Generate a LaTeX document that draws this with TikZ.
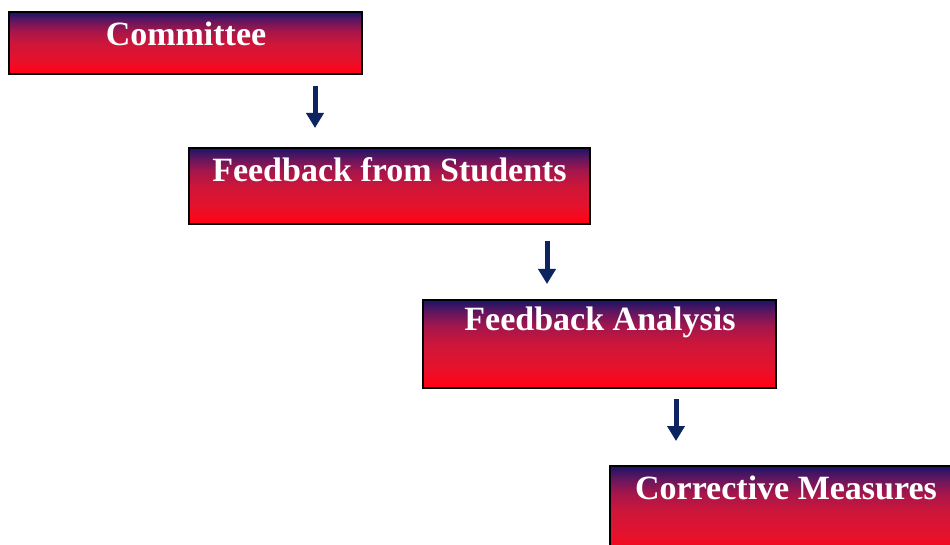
\documentclass[tikz,border=0pt]{standalone}
\usepackage{fontspec}
\setmainfont{Liberation Serif}
\usetikzlibrary{arrows.meta}
\definecolor{topc}{RGB}{36,20,102}
\definecolor{upc}{RGB}{100,22,95}
\definecolor{magc}{RGB}{165,22,75}
\definecolor{midc}{RGB}{205,22,58}
\definecolor{lowc}{RGB}{228,18,45}
\definecolor{botc}{RGB}{255,3,22}
\definecolor{arrowc}{RGB}{12,36,96}
\pgfdeclareverticalshading{boxshade}{100bp}{color(0bp)=(botc); color(25bp)=(botc); color(27bp)=(botc); color(37bp)=(lowc); color(50bp)=(midc); color(60bp)=(magc); color(68bp)=(upc); color(74bp)=(topc); color(75bp)=(topc); color(100bp)=(topc)}
\tikzset{
  box/.style={draw=black, line width=1.8pt, shading=boxshade, rectangle, inner sep=0pt},
  lbl/.style={text=white, font=\fontsize{34}{39}\selectfont\bfseries, inner sep=0pt},
  flow/.style={draw=arrowc, line width=5pt, -{Triangle[width=17pt,length=15pt]}, shorten >=0pt}
}
\begin{document}
\begin{tikzpicture}[x=1pt,y=-1pt]
\clip (0,0) rectangle (950,545);
\fill[white] (0,0) rectangle (950,545);
% boxes
\node[box, minimum width=353pt, minimum height=62pt] (b1) at (185.5,43) {};
\node[box, minimum width=401pt, minimum height=76pt] (b2) at (389.5,186) {};
\node[box, minimum width=353pt, minimum height=88pt] (b3) at (599.5,344) {};
\node[box, minimum width=345pt, minimum height=90pt] (b4) at (782.5,511) {};
% labels
\node[lbl] (t1) at (186,34) {Committee};
\node[lbl] (t2) at (389.5,170) {Feedback from Students};
\node[lbl] (t3) at (600,322) {Feedback Analysis};
\node[lbl] (t4) at (786,488) {Corrective Measures};
% arrows
\coordinate (a1s) at (315,86);
\coordinate (a1e) at (315,128);
\coordinate (a2s) at (547,241);
\coordinate (a2e) at (547,284);
\coordinate (a3s) at (676,399);
\coordinate (a3e) at (676,441);
\draw[flow] (a1s) -- (a1e);
\draw[flow] (a2s) -- (a2e);
\draw[flow] (a3s) -- (a3e);
\end{tikzpicture}
\end{document}
